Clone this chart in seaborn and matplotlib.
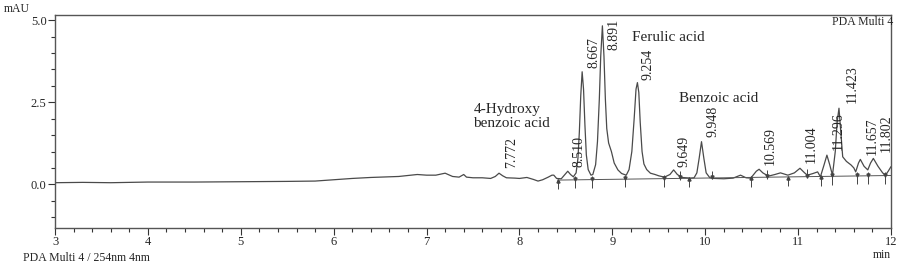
import numpy as np
import pandas as pd
import matplotlib
matplotlib.use("Agg")
import matplotlib.pyplot as plt
import seaborn as sns

# ---- data ----
time_min = [3.0, 3.3, 3.6, 4.0, 4.5, 5.0, 5.5, 5.8, 6.0, 6.2, 6.4, 6.7, 6.9, 7.0, 7.1,
            7.2, 7.28, 7.35, 7.40, 7.43, 7.5, 7.6, 7.69, 7.74, 7.78, 7.82, 7.86, 7.95,
            8.0, 8.08, 8.15, 8.2, 8.25, 8.31, 8.35, 8.37, 8.40, 8.45, 8.49, 8.52, 8.55,
            8.58, 8.61, 8.63, 8.645, 8.66, 8.675, 8.69, 8.705, 8.72, 8.74, 8.77,
            8.79, 8.82, 8.84, 8.86, 8.875, 8.893, 8.91, 8.925, 8.94, 8.96, 8.99, 9.02,
            9.06, 9.1, 9.15, 9.18, 9.21, 9.235, 9.255, 9.27, 9.285, 9.30, 9.32, 9.34,
            9.37, 9.41, 9.46, 9.5, 9.56, 9.62, 9.66, 9.70, 9.75, 9.84, 9.88, 9.91,
            9.935, 9.96, 9.985, 10.01, 10.05, 10.1, 10.2, 10.3, 10.38, 10.44, 10.49,
            10.55, 10.58, 10.62, 10.68, 10.75, 10.81, 10.89, 10.96, 11.02, 11.07,
            11.10, 11.16, 11.21, 11.24, 11.28, 11.31, 11.34, 11.37, 11.40, 11.42,
            11.44, 11.46, 11.48, 11.52, 11.57, 11.60, 11.62, 11.65, 11.67, 11.71,
            11.75, 11.78, 11.81, 11.86, 11.91, 11.94, 11.97, 12.0]
signal_mau = [0.05, 0.06, 0.05, 0.07, 0.07, 0.08, 0.09, 0.10, 0.14, 0.18, 0.21, 0.24, 0.30, 0.28, 0.28,
              0.34, 0.24, 0.22, 0.30, 0.22, 0.20, 0.20, 0.18, 0.24, 0.34, 0.26, 0.20, 0.19,
              0.18, 0.21, 0.15, 0.10, 0.14, 0.22, 0.28, 0.28, 0.18, 0.17, 0.30, 0.40, 0.30,
              0.23, 0.35, 0.80, 1.60, 2.70, 3.43, 2.90, 1.80, 0.90, 0.45, 0.28,
              0.30, 0.60, 1.30, 2.60, 3.90, 4.83, 3.90, 2.60, 1.70, 1.26, 1.00, 0.65,
              0.44, 0.33, 0.28, 0.45, 1.00, 2.00, 2.90, 3.10, 2.80, 1.90, 1.00, 0.62,
              0.45, 0.34, 0.30, 0.26, 0.22, 0.30, 0.44, 0.30, 0.21, 0.19, 0.20, 0.35,
              0.80, 1.30, 0.80, 0.35, 0.20, 0.18, 0.17, 0.19, 0.28, 0.20, 0.19,
              0.40, 0.46, 0.35, 0.25, 0.30, 0.35, 0.28, 0.35, 0.49, 0.35,
              0.28, 0.33, 0.38, 0.23, 0.60, 0.89, 0.60, 0.28, 1.00, 1.90,
              2.32, 1.60, 0.84, 0.70, 0.59, 0.50, 0.38, 0.65, 0.76, 0.55,
              0.44, 0.65, 0.79, 0.55, 0.35, 0.28, 0.40, 0.54]

peak_labels = ["7.772", "8.510", "8.667", "8.891", "9.254", "9.649", "9.948",
               "10.569", "11.004", "11.296", "11.423", "11.657", "11.802"]
label_x = [7.914, 8.636, 8.808, 9.013, 9.379, 9.767, 10.08,
           10.705, 11.136, 11.427, 11.578, 11.793, 11.944]
label_y = [0.50, 0.53, 3.55, 4.09, 3.18, 0.53, 1.44,
           0.59, 0.65, 1.05, 2.48, 0.89, 0.98]

compounds = ["4-Hydroxy\nbenzoic acid", "Ferulic acid", "Benzoic acid"]
compound_x = [7.504, 9.207, 9.713]
compound_y = [2.07, 4.46, 2.63]

baseline_t = [8.41, 12.0]
baseline_v = [0.13, 0.27]
marker_t = [8.41, 8.60, 8.78, 9.14, 9.56, 9.73, 9.83, 10.07, 10.49, 10.67,
            10.89, 11.10, 11.25, 11.36, 11.63, 11.75, 11.94]
marker_dir = [1, 0, 0, 0, 0, -1, 1, -1, 1, -1, 1, -1, 1, 0, 0, 0, 0]

xticks = [3, 4, 5, 6, 7, 8, 9, 10, 11, 12]
yticks = [0.0, 2.5, 5.0]

# ---- drawing ----
sns.set_style("ticks")
plt.rcParams['font.family'] = ['Liberation Serif', 'DejaVu Serif']

fig = plt.figure(figsize=(8.98, 2.67), dpi=100)
ax = fig.add_axes([55/898, 1-228/267, (891-55)/898, (228-15)/267])

df = pd.DataFrame({"t": time_min, "v": signal_mau})
sns.lineplot(data=df, x="t", y="v", ax=ax, color="#4a4a4a", linewidth=0.9,
             sort=False, estimator=None)

# integration baseline and markers
ax.plot(baseline_t, baseline_v, color="#555555", linewidth=0.7)
bt = np.interp(marker_t, baseline_t, baseline_v)
for t, b, d in zip(marker_t, bt, marker_dir):
    if d == 1:
        ax.vlines(t, b - 0.28, b + 0.04, color="#444444", linewidth=0.7)
        ax.plot(t, b - 0.03, marker="^", ms=2.2, color="#444444")
    elif d == -1:
        ax.vlines(t, b - 0.04, b + 0.22, color="#444444", linewidth=0.7)
        ax.plot(t, b + 0.03, marker="v", ms=2.2, color="#444444")
    else:
        ax.vlines(t, b - 0.25, b + 0.12, color="#444444", linewidth=0.7)
        ax.plot(t, b + 0.03, marker="v", ms=2.2, color="#444444")

for lab, x, y in zip(peak_labels, label_x, label_y):
    ax.text(x, y, lab, rotation=90, ha="center", va="bottom", fontsize=10)

for lab, x, y in zip(compounds, compound_x, compound_y):
    ax.text(x, y, lab, ha="left", va="center", fontsize=11, linespacing=1.05)

ax.set_xlim(3, 12)
ax.set_ylim(-1.33, 5.16)
ax.set_xticks(xticks)
ax.set_xticklabels([str(v) for v in xticks])
ax.set_yticks(yticks)
ax.set_yticklabels([f"{v:.1f}" for v in yticks])
ax.set_xticks(np.arange(3, 12.01, 0.2), minor=True)
ax.set_yticks(np.arange(-1.0, 5.01, 0.5), minor=True)
ax.tick_params(which="major", direction="out", length=5, width=0.8, pad=1,
               labelsize=9, color="#333333")
ax.tick_params(which="minor", direction="out", length=2.8, width=0.8, color="#333333")
ax.set_xlabel("")
ax.set_ylabel("")
for s in ax.spines.values():
    s.set_visible(True)
    s.set_color("#555555")
    s.set_linewidth(1.0)

fig.text(4/898, 1-9/267, "mAU", ha="left", va="center", fontsize=8.5)
fig.text(893/898, 1-22/267, "PDA Multi 4", ha="right", va="center", fontsize=8.5)
fig.text(891/898, 1-255/267, "min", ha="right", va="center", fontsize=8.5)
fig.text(23/898, 1-258/267, "PDA Multi 4 / 254nm 4nm", ha="left", va="center", fontsize=8.5)

fig.savefig("out.png", dpi=100)
